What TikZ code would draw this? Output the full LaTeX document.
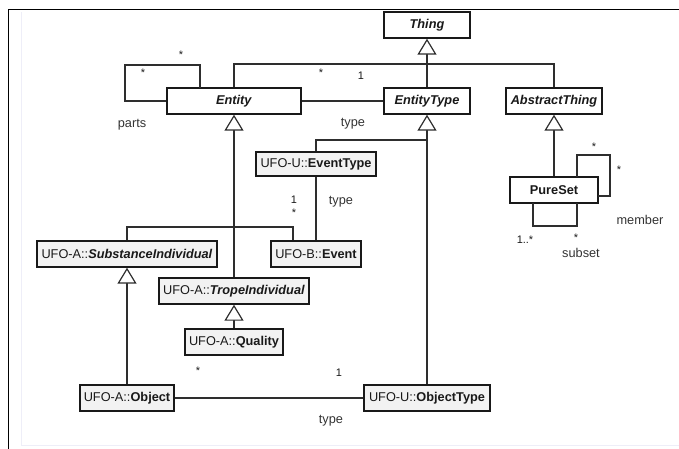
\documentclass[tikz,border=0pt]{standalone}
\usepackage{fontspec}
\setmainfont{Liberation Sans}
\usetikzlibrary{arrows.meta}
\definecolor{edge}{HTML}{2E2E2E}
\definecolor{boxfill}{HTML}{F2F2F2}
\definecolor{frameline}{HTML}{EEEEF8}
\begin{document}
\begin{tikzpicture}[x=1bp,y=-1bp,
  every node/.style={font=\fontsize{12.8}{14}\selectfont, text=black!90, inner sep=0pt},
  cls/.style={draw=black!90, line width=1.4bp, fill=white, minimum height=26bp},
  ext/.style={cls, fill=boxfill},
  assoc/.style={draw=edge, line width=1.4bp},
  gen/.style={assoc, -{Triangle[open, length=16bp, width=19bp, fill=white, line width=1.2bp]}},
  mult/.style={font=\fontsize{11}{12}\selectfont},
  role/.style={font=\fontsize{12.8}{14}\selectfont, text=black!80}]
\useasboundingbox (0,0) rectangle (679,449);

% page frame
\draw[black, line width=1bp] (8.5,449) -- (8.5,9.5) -- (679,9.5);
\draw[frameline, line width=1bp] (21.5,12) -- (21.5,445.5) -- (679,445.5);

% classes
\node[cls, minimum width=86bp]  (thing)   at (427,25)  {\textbf{\textit{Thing}}};
\node[cls, minimum width=134bp] (entity)  at (234,101) {\textbf{\textit{Entity}}};
\node[cls, minimum width=86bp]  (etype)   at (427,101) {\textbf{\textit{EntityType}}};
\node[cls, minimum width=96bp]  (abst)    at (554,101) {\textbf{\textit{AbstractThing}}};
\node[ext, minimum width=120bp, minimum height=24bp] (evtype) at (316,164) {UFO-U::\textbf{EventType}};
\node[ext, minimum width=180bp] (subst)   at (127,254) {UFO-A::\textbf{\textit{SubstanceIndividual}}};
\node[ext, minimum width=90bp]  (event)   at (316,254) {UFO-B::\textbf{Event}};
\node[ext, minimum width=150bp] (trope)   at (234,291) {UFO-A::\textbf{\textit{TropeIndividual}}};
\node[ext, minimum width=98bp]  (quality) at (234,342) {UFO-A::\textbf{Quality}};
\node[ext, minimum width=94bp]  (object)  at (127,398) {UFO-A::\textbf{Object}};
\node[ext, minimum width=126bp] (otype)   at (427,398) {UFO-U::\textbf{ObjectType}};
\node[cls, minimum width=88bp]  (pureset) at (554,190) {\textbf{PureSet}};

% junction points of the generalization trees
\coordinate (tj)  at (427,64);
\coordinate (ejR) at (293,227);
\coordinate (etj) at (427,140);

% generalizations
\draw[gen] (etype.north) -- (thing.south);
\draw[assoc] (entity.north) |- (tj) -| (abst.north);
\draw[gen] (trope.north) -- (entity.south);
\draw[assoc] (subst.north) |- (ejR) -- (ejR |- event.north);
\draw[gen] (otype.north) -- (etype.south);
\draw[assoc] (evtype.north) |- (etj);
\draw[gen] (pureset.north) -- (abst.south);
\draw[gen] (object.north) -- (subst.south);
\draw[gen] (quality.north) -- (trope.south);

% associations
\draw[assoc] (entity.east) -- (etype.west);
\draw[assoc] (entity.west) -| (125,65) -| (200,88);
\draw[assoc] (evtype.south) -- (evtype.south |- event.north);
\draw[assoc] (object.east) -- (otype.west);
\draw[assoc] (577,177) |- (610,155) |- (598,196);
\draw[assoc] (533,203) |- (577,226) -- (577,203);

% multiplicities and role names
\node[mult] (m1) at (181,55)  {*};
\node[mult] (m2) at (143,73)  {*};
\node[role] (r1) at (132,125) {parts};
\node[mult] (m3) at (321,73)  {*};
\node[mult] (m4) at (361,76)  {1};
\node[role] (r2) at (353,124) {type};
\node[mult] (m5) at (294,200) {1};
\node[mult] (m6) at (294,213) {*};
\node[role] (r3) at (341,202) {type};
\node[mult] (m7) at (198,371) {*};
\node[mult] (m8) at (339,373) {1};
\node[role] (r4) at (331,421) {type};
\node[mult] (m9)  at (594,147) {*};
\node[mult] (m10) at (619,170) {*};
\node[role] (r5) at (640,220) {member};
\node[mult] (m11) at (525,240) {1..*};
\node[mult] (m12) at (576,238) {*};
\node[role] (r6) at (581,253) {subset};
\end{tikzpicture}
\end{document}
